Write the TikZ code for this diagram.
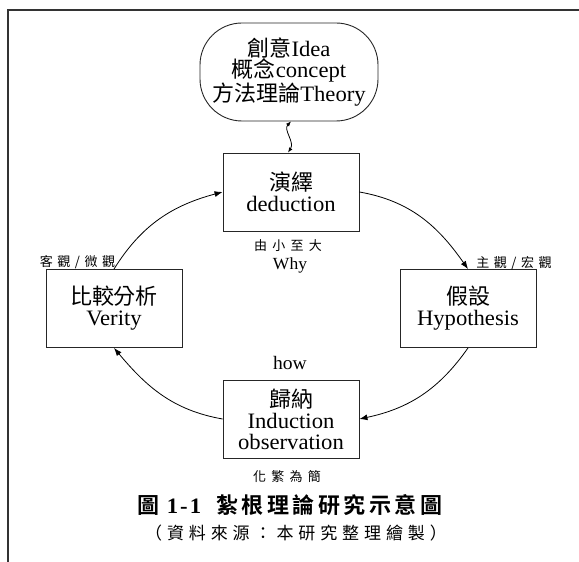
\documentclass[tikz,border=0pt]{standalone}
\usepackage{fontspec}
\setmainfont{Liberation Serif}[FakeStretch=1.03]
\newfontfamily\cjk{Noto Sans CJK TC}
\newfontfamily\cjkb{Noto Sans CJK TC Bold}
\usetikzlibrary{arrows.meta}
\newcommand\spc[2]{\def\spgap{#1}\spcloop#2\relax}
\def\spcloop#1{\ifx#1\relax\unkern\else#1\kern\spgap\expandafter\spcloop\fi}
\tikzset{
  box/.style={draw=black!85, line width=0.9pt, minimum width=136pt, minimum height=78pt, inner sep=0pt, align=center, font=\fontsize{22}{21}\selectfont},
  oval/.style={box, minimum width=178pt, minimum height=98pt, rounded corners=42pt},
  lbl/.style={inner sep=0pt, font=\cjk\fontsize{13}{13}\selectfont},
  conn/.style={line width=0.8pt, -{Latex[length=8pt,width=6pt]}},
  frame/.style={line width=2pt, draw=black!80}
}
\begin{document}
\begin{tikzpicture}[x=1pt,y=1pt]
\useasboundingbox (0,0) rectangle (579,562);
\coordinate (ftr) at (579,552);
\coordinate (fc) at (8,552);
\coordinate (fbl) at (8,0);
\draw[frame] (ftr) -- (fc) -- (fbl);

\node[oval] (O) at (289,490) {{\cjk 創意}Idea\\{\cjk 概念}concept\\{\cjk 方法理論}Theory};
\node[box] (D) at (291,370) {{\cjk 演繹}\\deduction};
\node[box] (L) at (114,253.5) {{\cjk 比較分析}\\Verity};
\node[box] (R) at (468,253.5) {{\cjk 假設}\\Hypothesis};
\node[box] (B) at (291,143) {{\cjk 歸納}\\Induction\\observation};

\node[lbl] (t1) at (288,316) {\spc{5.2pt}{由小至大}};
\node[inner sep=0pt, font=\fontsize{17}{17}\selectfont] (t2) at (290,297) {Why};
\node[lbl] (t3) at (77.5,300) {\spc{4.5pt}{客觀/微觀}};
\node[lbl] (t4) at (514,299) {\spc{4.5pt}{主觀/宏觀}};
\node[inner sep=0pt, font=\fontsize{19}{19}\selectfont] (t5) at (290,199) {how};
\node[lbl] (t6) at (287,85) {\spc{5.2pt}{化繁為簡}};
\node[inner sep=0pt, font=\fontsize{22}{22}\selectfont] (cap) at (290,57)
  {{\cjkb 圖}\kern7pt{\bfseries 1\kern2pt-\kern2pt1}\kern15pt{\cjkb\spc{3.5pt}{紮根理論研究示意圖}}};
\node[inner sep=0pt, font=\cjk\fontsize{17}{17}\selectfont] (src) at (296,29)
  {\spc{4.9pt}{（資料來源：本研究整理繪製）}};

\draw[line width=0.8pt, {Latex[length=5pt,width=4pt]}-{Latex[length=5pt,width=4pt]}]
  ([xshift=2pt]O.south) .. controls (283,432) and (295,420) .. ([xshift=-3pt]D.north);
\draw[conn] (L.north) to[out=58,in=195] (D.west);
\draw[conn] (D.east) to[out=-10,in=125] (R.north);
\draw[conn] (R.south) to[out=-125,in=12] (B.east);
\draw[conn] (B.west) to[out=170,in=-50] (L.south);
\end{tikzpicture}
\end{document}
